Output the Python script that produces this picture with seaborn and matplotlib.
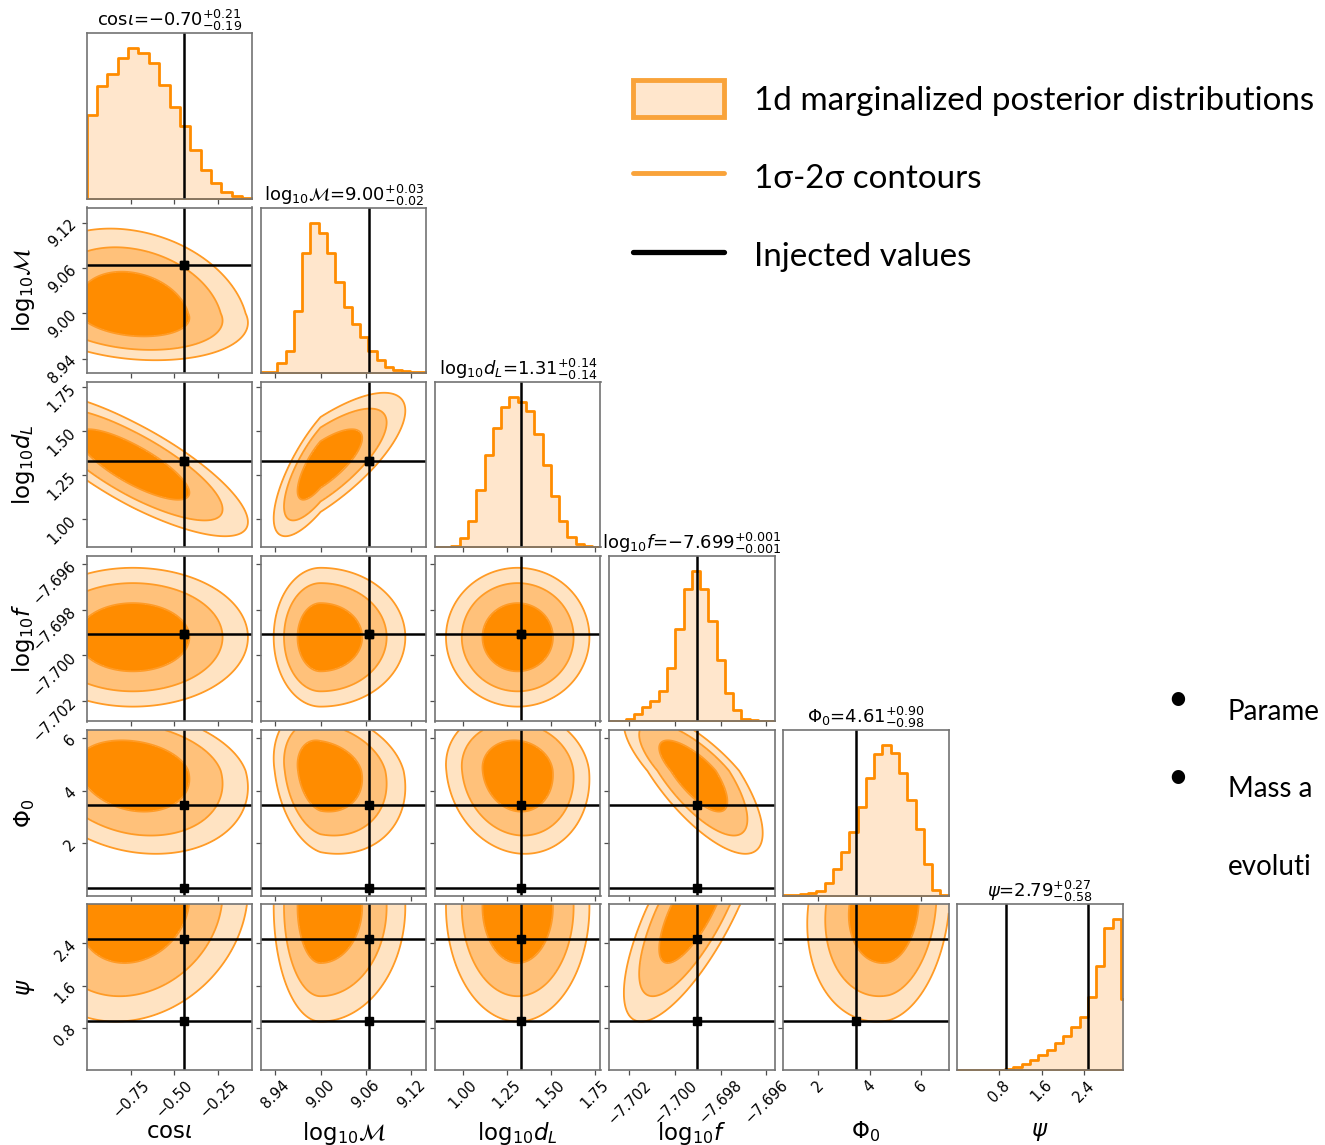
import numpy as np
import pandas as pd
import matplotlib
matplotlib.use("Agg")
import matplotlib.pyplot as plt
import seaborn as sns
from matplotlib.patches import Patch
from matplotlib.lines import Line2D
from matplotlib.ticker import FixedLocator, FuncFormatter, NullLocator

# ------------------------------------------------------------------ data
param_labels = [r"$\mathrm{cos}\iota$", r"$\mathrm{log}_{10}\mathcal{M}$", r"$\mathrm{log}_{10}d_L$",
                r"$\mathrm{log}_{10}f$", r"$\Phi_0$", r"$\psi$"]
title_values = ["-0.70", "9.00", "1.31", "-7.699", "4.61", "2.79"]
title_plus = ["0.21", "0.03", "0.14", "0.001", "0.90", "0.27"]
title_minus = ["0.19", "0.02", "0.14", "0.001", "0.98", "0.58"]

col_ranges = [(-1.006, -0.051), (8.921, 9.140), (0.842, 1.782),
              (-7.70289, -7.69564), (0.66, 7.06), (0.0, 3.1416)]
row_ranges = [(-1.006, -0.051), (8.921, 9.140), (0.842, 1.782),
              (-7.70289, -7.69564), (0.0, 6.30), (0.0, 3.1416)]

tick_values = [[-0.75, -0.50, -0.25], [8.94, 9.00, 9.06, 9.12],
               [1.00, 1.25, 1.50, 1.75], [-7.702, -7.700, -7.698, -7.696],
               [2, 4, 6], [0.8, 1.6, 2.4]]
tick_formats = ["{:.2f}", "{:.2f}", "{:.2f}", "{:.3f}", "{:.0f}", "{:.1f}"]

# 1d marginal histograms: (lower edge, upper edge, number of bins) + heights
hist_bins = [(-1.006, -0.051, 16), (8.921, 9.140, 20), (0.842, 1.782, 20),
             (-7.70289, -7.69564, 20), (0.66, 7.06, 20), (-0.0336, 3.265, 21)]
hist_cosi = [252, 339, 375, 422, 452, 439, 407, 342, 275, 219, 147, 87, 47, 22, 9, 4]
hist_mass = [2, 3, 31, 68, 188, 360, 453, 423, 360, 275, 200, 148, 108, 68, 38, 18, 8, 5, 2, 2]
hist_dl = [0, 2, 5, 28, 80, 173, 278, 358, 420, 452, 437, 408, 340, 247, 153, 79, 32, 10, 3, 0]
hist_f = [1, 2, 8, 23, 43, 61, 90, 161, 278, 398, 451, 398, 300, 183, 86, 33, 6, 3, 1, 1]
hist_phi = [2, 3, 5, 8, 15, 37, 80, 130, 190, 265, 353, 425, 452, 427, 367, 287, 200, 95, 17, 2]
hist_psi = [0, 0, 0, 1, 1, 1, 3, 10, 18, 30, 45, 61, 80, 101, 128, 160, 218, 313, 428, 453, 213]
hist_heights = [hist_cosi, hist_mass, hist_dl, hist_f, hist_phi, hist_psi]

# injected values (two degenerate sets for the angles)
truths_a = [-0.444, 9.064, 1.330, -7.69905, 3.46, 0.92]
truths_b = [-0.444, 9.064, 1.330, -7.69905, 0.31, 2.48]

# 2d posterior shape: centre, lower/upper widths, correlations
post_center = [-0.74, 9.000, 1.312, -7.6992, 4.75, 3.10]
post_sig_lo = [0.220, 0.021, 0.138, 0.00103, 1.07, 0.74]
post_sig_hi = [0.225, 0.038, 0.138, 0.00103, 0.80, 0.60]
corr_pairs = {(1, 0): -0.20, (2, 0): -0.80, (2, 1): 0.75,
              (3, 0): 0.00, (3, 1): 0.00, (3, 2): 0.00,
              (4, 0): -0.20, (4, 1): -0.20, (4, 2): -0.10, (4, 3): -0.75,
              (5, 0): 0.15, (5, 1): 0.00, (5, 2): 0.00, (5, 3): 0.75, (5, 4): 0.15}
contour_radii = [1.45, 2.30, 2.95]

legend_labels = ["1d marginalized posterior distributions", "1\u03c3-2\u03c3 contours", "Injected values"]
side_text = ["Parame", "Mass a", "evoluti"]

# ------------------------------------------------------------------ style
dark = "#ff8c00"
mid = "#ffc17a"
light = "#ffe3c2"
contour_line = "#ff9b26"
hist_fill = "#ffe6cc"
hist_edge = "#ff8c00"
legend_orange = "#f9a33a"

sns.set_theme(style="ticks")
plt.rcParams["font.family"] = ["DejaVu Sans"]
plt.rcParams["axes.edgecolor"] = "0.45"
plt.rcParams["axes.linewidth"] = 1.2
plt.rcParams["mathtext.fontset"] = "dejavusans"
plt.rcParams["text.color"] = "black"
plt.rcParams["axes.labelcolor"] = "black"
plt.rcParams["xtick.color"] = "black"
plt.rcParams["ytick.color"] = "black"

W, H = 1325, 1145
fig = plt.figure(figsize=(W / 100, H / 100), dpi=100)

n = 6
left0, top0, pitch_x, pitch_y, size = 86.7, 33.3, 174.1, 174.2, 165.6


def std_coord(v, k):
    c = post_center[k]
    s = np.where(v < c, post_sig_lo[k], post_sig_hi[k])
    return (v - c) / s


def make_formatter(fmt):
    return FuncFormatter(lambda v, p: fmt.format(v).replace("-", "\u2212"))


for i in range(n):
    for j in range(i + 1):
        x0 = left0 + j * pitch_x
        y0 = top0 + i * pitch_y
        ax = fig.add_axes([x0 / W, 1 - (y0 + size) / H, size / W, size / H])
        ax.set_facecolor("white")
        xr = col_ranges[j]
        if i == j:
            lo, hi, nb = hist_bins[i]
            edges = np.linspace(lo, hi, nb + 1)
            df = pd.DataFrame({"value": 0.5 * (edges[1:] + edges[:-1]),
                               "count": hist_heights[i]})
            sns.histplot(data=df, x="value", weights="count", bins=nb, binrange=(lo, hi),
                         element="step", fill=True, ax=ax,
                         facecolor=hist_fill, edgecolor=hist_edge, linewidth=2.0)
            for tv in sorted(set([truths_a[i], truths_b[i]])):
                ax.axvline(tv, color="black", lw=1.8)
            ax.set_xlim(*xr)
            ax.set_ylim(0, 1.1 * max(hist_heights[i]))
            ax.yaxis.set_major_locator(NullLocator())
            ax.set_ylabel("")
            ax.set_title(f"{param_labels[i]}=${title_values[i]}^{{+{title_plus[i]}}}_{{-{title_minus[i]}}}$",
                         fontsize=13, pad=3)
        else:
            yr = row_ranges[i]
            xs = np.linspace(xr[0], xr[1], 320)
            ys = np.linspace(yr[0], yr[1], 320)
            X, Y = np.meshgrid(xs, ys)
            U = std_coord(X, j)
            V = std_coord(Y, i)
            r = corr_pairs[(i, j)]
            D = np.sqrt((U ** 2 - 2 * r * U * V + V ** 2) / (1 - r ** 2))
            ax.contourf(X, Y, D, levels=[0] + contour_radii, colors=[dark, mid, light])
            ax.contour(X, Y, D, levels=contour_radii, colors=contour_line, linewidths=1.3)
            for tv in sorted(set([truths_a[j], truths_b[j]])):
                ax.axvline(tv, color="black", lw=1.8)
            for tv in sorted(set([truths_a[i], truths_b[i]])):
                ax.axhline(tv, color="black", lw=1.8)
            for tr in (truths_a, truths_b):
                ax.plot(tr[j], tr[i], "s", color="black", ms=5.5)
            ax.set_xlim(*xr)
            ax.set_ylim(*yr)
            ax.yaxis.set_major_locator(FixedLocator(tick_values[i]))
            ax.yaxis.set_major_formatter(make_formatter(tick_formats[i]))
        ax.xaxis.set_major_locator(FixedLocator(tick_values[j]))
        ax.xaxis.set_major_formatter(make_formatter(tick_formats[j]))
        ax.tick_params(direction="out", length=3.5, width=0.9, color="0.3",
                       labelcolor="black", labelsize=10.5, labelrotation=45, pad=2)
        ax.set_xlabel("")
        if i < n - 1:
            ax.tick_params(labelbottom=False)
        else:
            ax.set_xlabel(param_labels[j], fontsize=16.5, color="black")
            ax.xaxis.set_label_coords(0.5, -0.30)
        if j > 0 or i == 0:
            ax.tick_params(labelleft=False)
        else:
            ax.set_ylabel(param_labels[i], fontsize=16.5, color="black")
            ax.yaxis.set_label_coords(-0.30, 0.5)

# ------------------------------------------------------------------ legend & side text
legend_family = ["Lato", "DejaVu Sans"]
renderer = fig.canvas.get_renderer()


def fit_size(text, target_px):
    probe = fig.text(0, 0, text, fontsize=20, family=legend_family)
    w = probe.get_window_extent(renderer).width
    probe.remove()
    return 20 * target_px / w


leg_size = fit_size(legend_labels[0], 560)   # points
em = leg_size * 100 / 72                      # pixels

handles = [Patch(facecolor=hist_fill, edgecolor=legend_orange, linewidth=3.5),
           Line2D([], [], color=legend_orange, lw=3.5),
           Line2D([], [], color="black", lw=3.8)]
fig.legend(handles, legend_labels, loc="upper left", bbox_to_anchor=(633 / W, 1 - 80 / H),
           frameon=False, prop=dict(family=legend_family, size=leg_size),
           labelcolor="black",
           handlelength=91 / em, handleheight=45 / em, handletextpad=30 / em,
           labelspacing=(78 - 45 + 8) / em, borderpad=0, borderaxespad=0)

side_size = min(fit_size(side_text[0], 92), leg_size * 1.2)
side_base = [720, 797, 875]
side_bullet = [True, True, False]
for txt, base, has_bullet in zip(side_text, side_base, side_bullet):
    if has_bullet:
        fig.text(1178 / W, 1 - (base - 20) / H, "\u2022", fontsize=side_size * 1.3,
                 family=legend_family, color="black", va="center", ha="center")
    fig.text(1228 / W, 1 - base / H, txt, fontsize=side_size, family=legend_family,
             color="black", va="baseline", ha="left")

fig.savefig("out.png", dpi=100)
